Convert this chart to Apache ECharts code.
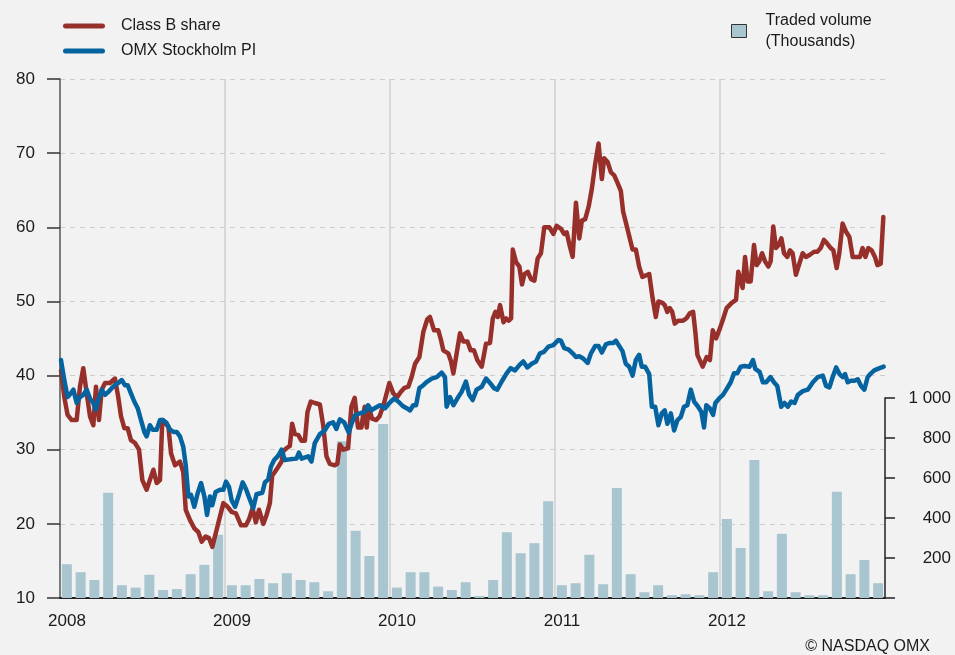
<!DOCTYPE html>
<html>
<head>
<meta charset="utf-8">
<script src="https://cdn.jsdelivr.net/npm/echarts@6/dist/echarts.min.js"></script>
<style>
  html, body { margin: 0; padding: 0; background: #f2f2f2; }
  #chart { width: 955px; height: 655px; }
</style>
</head>
<body>
<div id="chart"></div>
<script>
// Class B share (SEK), dates as decimal years
const classBDates = [
  2008.006, 2008.026, 2008.046, 2008.071, 2008.101, 2008.121, 2008.141, 2008.162, 2008.182, 2008.202,
  2008.218, 2008.236, 2008.253, 2008.273, 2008.303, 2008.333, 2008.353, 2008.370, 2008.390, 2008.410,
  2008.430, 2008.455, 2008.479, 2008.499, 2008.525, 2008.552, 2008.566, 2008.586, 2008.606, 2008.620,
  2008.636, 2008.657, 2008.673, 2008.697, 2008.727, 2008.747, 2008.762, 2008.788, 2008.814, 2008.838,
  2008.859, 2008.883, 2008.903, 2008.923, 2008.939, 2008.964, 2008.990, 2009.016, 2009.041,
  2009.066, 2009.097, 2009.127, 2009.147, 2009.167, 2009.187,
  2009.206, 2009.232, 2009.252, 2009.272, 2009.286, 2009.302, 2009.323, 2009.343, 2009.353, 2009.373,
  2009.393, 2009.407, 2009.423, 2009.444, 2009.464, 2009.484, 2009.500, 2009.520, 2009.544, 2009.575,
  2009.595, 2009.615, 2009.635, 2009.665, 2009.681, 2009.696, 2009.716, 2009.746, 2009.766, 2009.786,
  2009.806, 2009.827, 2009.837, 2009.847, 2009.859, 2009.871, 2009.891, 2009.917, 2009.937, 2009.964,
  2009.996, 2010.020, 2010.044, 2010.065, 2010.085, 2010.111, 2010.131, 2010.152, 2010.178, 2010.202,
  2010.226, 2010.242, 2010.267, 2010.293, 2010.309, 2010.323, 2010.353, 2010.370, 2010.384, 2010.404,
  2010.424, 2010.444, 2010.469, 2010.489, 2010.509, 2010.529, 2010.556, 2010.582, 2010.606, 2010.623,
  2010.639, 2010.653, 2010.667, 2010.688, 2010.704, 2010.720, 2010.734, 2010.744,
  2010.764, 2010.784, 2010.800, 2010.815, 2010.835, 2010.855, 2010.875, 2010.895, 2010.915, 2010.935,
  2010.966, 2010.990, 2011.010, 2011.036, 2011.056, 2011.071, 2011.087, 2011.107, 2011.127, 2011.147,
  2011.163, 2011.183, 2011.204, 2011.224, 2011.244, 2011.264, 2011.284, 2011.298, 2011.319, 2011.339,
  2011.359, 2011.379, 2011.399, 2011.413, 2011.429, 2011.450, 2011.470, 2011.490, 2011.510, 2011.530,
  2011.550, 2011.571, 2011.591, 2011.611, 2011.627, 2011.651,
  2011.665, 2011.681, 2011.696, 2011.710, 2011.726, 2011.746, 2011.776, 2011.796, 2011.817, 2011.837,
  2011.851, 2011.863, 2011.895, 2011.919, 2011.939, 2011.956, 2011.976, 2012.000, 2012.020, 2012.040,
  2012.071, 2012.097, 2012.111, 2012.125, 2012.137, 2012.152, 2012.168, 2012.186, 2012.206, 2012.222,
  2012.238, 2012.255, 2012.273, 2012.293, 2012.307, 2012.323, 2012.339, 2012.355, 2012.372, 2012.388,
  2012.408, 2012.424, 2012.440, 2012.460, 2012.481, 2012.501, 2012.521, 2012.545, 2012.570, 2012.590,
  2012.610, 2012.630, 2012.650, 2012.671, 2012.687, 2012.707, 2012.723, 2012.743, 2012.764, 2012.784,
  2012.804, 2012.828, 2012.848, 2012.864, 2012.881, 2012.899, 2012.919, 2012.939, 2012.954, 2012.974,
  2012.990
]
const classBValues = [
  40.7, 37.1, 34.7, 34.0, 34.0, 38.5, 41.0, 37.6, 34.5, 33.3,
  38.5, 34.0, 38.1, 39.0, 39.0, 39.6, 37.1, 34.5, 32.9, 32.9,
  31.3, 30.9, 30.0, 25.9, 24.6, 26.4, 27.3, 25.5, 25.9, 34.0,
  33.6, 33.1, 29.5, 27.9, 28.4, 27.0, 21.9, 20.5, 19.4, 18.9,
  17.6, 18.3, 18.1, 16.9, 18.3, 20.5, 22.8, 22.3, 21.6,
  21.4, 19.8, 19.8, 20.7, 22.1, 20.2,
  21.9, 20.0, 21.2, 22.8, 26.5, 27.0, 27.7, 28.4, 29.8, 30.2,
  30.5, 33.5, 32.1, 32.0, 31.2, 31.2, 35.1, 36.5, 36.3, 36.1,
  33.3, 29.1, 28.1, 27.9, 28.1, 30.7, 30.0, 30.2, 35.8, 37.0,
  33.0, 33.0, 34.7, 35.8, 33.0, 35.8, 34.2, 34.0, 34.5, 36.3,
  39.0, 37.6, 37.1, 37.8, 38.3, 38.5, 39.8, 41.6, 42.5, 45.9,
  47.6, 47.9, 46.1, 46.1, 44.8, 43.4, 43.0, 41.9, 40.3, 43.0,
  45.7, 44.6, 44.6, 43.4, 43.4, 42.1, 41.2, 44.3, 44.4, 47.7,
  48.6, 47.9, 49.5, 47.2, 47.7, 47.4, 47.7, 57.0,
  55.3, 54.7, 52.3, 53.7, 54.0, 53.0, 52.8, 55.8, 56.5, 60.0,
  60.0, 59.1, 60.2, 59.8, 59.1, 59.3, 57.7, 56.0, 63.3, 58.5,
  60.9, 61.1, 62.8, 65.3, 68.6, 71.3, 66.5, 69.3, 68.8, 67.4,
  67.0, 66.0, 64.9, 62.1, 60.7, 58.8, 57.0, 57.0, 54.7, 53.3,
  53.5, 53.7, 50.5, 47.9, 50.0, 49.8,
  49.5, 48.6, 49.1, 48.6, 47.0, 47.4, 47.4, 47.7, 48.4, 48.6,
  45.8, 42.8, 41.2, 42.5, 42.1, 46.1, 45.0, 46.4, 47.7, 49.1,
  49.8, 50.2, 54.0, 52.9, 51.8, 56.0, 52.7, 52.7, 57.6, 54.9,
  55.4, 56.5, 55.4, 54.7, 55.4, 60.1, 57.2, 57.6, 58.5, 56.5,
  56.0, 56.9, 56.5, 53.6, 55.1, 56.5, 56.0, 56.3, 56.7, 56.7,
  57.2, 58.3, 57.8, 57.2, 56.9, 54.5, 56.5, 60.5, 59.4, 58.7,
  56.0, 56.0, 56.0, 57.2, 56.0, 57.2, 56.9, 56.0, 54.9, 55.1,
  61.4
]

// OMX Stockholm PI, rebased to the share scale
const omxDates = [
  2008.006, 2008.026, 2008.046, 2008.066, 2008.081, 2008.101, 2008.121, 2008.141, 2008.162, 2008.182,
  2008.202, 2008.216, 2008.232, 2008.253, 2008.273, 2008.293, 2008.313, 2008.333, 2008.353, 2008.374,
  2008.394, 2008.410, 2008.430, 2008.450, 2008.471, 2008.491, 2008.511, 2008.525, 2008.545, 2008.561,
  2008.586, 2008.606, 2008.626, 2008.646, 2008.667, 2008.687, 2008.707, 2008.727, 2008.747, 2008.762,
  2008.778, 2008.794, 2008.814, 2008.834, 2008.855, 2008.875, 2008.891, 2008.909, 2008.923, 2008.943,
  2008.970, 2008.990, 2009.006, 2009.024, 2009.040, 2009.061,
  2009.086, 2009.107, 2009.127, 2009.147, 2009.171, 2009.191,
  2009.202, 2009.226, 2009.242, 2009.262, 2009.278, 2009.298, 2009.323, 2009.343, 2009.363, 2009.393,
  2009.433, 2009.448, 2009.464, 2009.504, 2009.524, 2009.544, 2009.575, 2009.605, 2009.629, 2009.655,
  2009.675, 2009.696, 2009.722, 2009.750, 2009.770, 2009.790, 2009.817, 2009.847, 2009.867, 2009.887,
  2009.907, 2009.939, 2009.970, 2009.996, 2010.024, 2010.050, 2010.077, 2010.101, 2010.121, 2010.141,
  2010.158, 2010.178, 2010.202, 2010.226, 2010.253, 2010.283, 2010.313, 2010.333, 2010.343, 2010.364,
  2010.384, 2010.408, 2010.434, 2010.460, 2010.480, 2010.501, 2010.525, 2010.556, 2010.582, 2010.606,
  2010.630, 2010.650, 2010.677, 2010.707, 2010.731, 2010.758, 2010.784, 2010.808, 2010.832, 2010.859,
  2010.885, 2010.909, 2010.933, 2010.960, 2010.990, 2011.020,
  2011.036, 2011.056, 2011.083,
  2011.107, 2011.127, 2011.147, 2011.171, 2011.198, 2011.218, 2011.244, 2011.264, 2011.284, 2011.308,
  2011.329, 2011.353, 2011.369, 2011.389, 2011.409, 2011.429, 2011.450, 2011.470, 2011.490, 2011.510,
  2011.526, 2011.546, 2011.571, 2011.587, 2011.607, 2011.627, 2011.647,
  2011.665, 2011.681, 2011.702, 2011.722, 2011.742, 2011.762, 2011.782, 2011.802, 2011.823, 2011.843,
  2011.867, 2011.887, 2011.903, 2011.917, 2011.938, 2011.958, 2011.972, 2011.998, 2012.018, 2012.038,
  2012.065, 2012.085, 2012.105, 2012.125, 2012.149, 2012.179, 2012.200, 2012.214, 2012.240, 2012.260,
  2012.280, 2012.306, 2012.327, 2012.347, 2012.371, 2012.391, 2012.411, 2012.431, 2012.452, 2012.472,
  2012.502, 2012.532, 2012.563, 2012.593, 2012.623, 2012.643, 2012.663, 2012.683, 2012.704, 2012.724,
  2012.744, 2012.758, 2012.774, 2012.794, 2012.815, 2012.835, 2012.855, 2012.875, 2012.895, 2012.915,
  2012.935, 2012.956, 2012.992
]
const omxValues = [
  42.1, 39.4, 37.1, 37.6, 38.1, 36.3, 37.1, 37.4, 38.1, 36.9,
  36.3, 35.4, 36.7, 38.1, 37.4, 37.8, 38.3, 38.7, 39.0, 39.4,
  38.7, 38.7, 37.6, 36.5, 35.6, 34.0, 32.4, 31.8, 33.3, 32.7,
  32.7, 34.0, 34.0, 33.6, 32.7, 32.4, 32.4, 31.8, 30.4, 27.9,
  23.7, 23.9, 22.3, 24.1, 25.5, 23.7, 21.2, 23.7, 22.5, 24.3,
  24.6, 24.6, 25.7, 25.0, 23.2, 22.3,
  24.0, 25.6, 24.7, 23.5, 22.1, 24.0,
  24.2, 24.2, 25.6, 26.0, 27.7, 28.6, 29.2, 30.0, 28.6, 28.7,
  28.8, 29.6, 28.8, 29.1, 28.4, 30.9, 32.1, 32.6, 33.5, 33.7,
  32.8, 34.1, 33.7, 32.3, 33.7, 34.7, 34.9, 35.1, 36.0, 35.3,
  35.6, 36.0, 35.6, 36.3, 36.9, 36.5, 35.9, 35.6, 35.3, 36.0,
  36.0, 38.3, 38.7, 39.2, 39.6, 39.8, 40.4, 39.8, 35.8, 37.1,
  36.0, 36.9, 37.8, 39.2, 37.4, 36.7, 38.1, 38.5, 39.6, 39.0,
  38.3, 38.1, 39.2, 40.3, 41.0, 40.7, 41.4, 41.9, 41.1, 41.6,
  41.9, 43.0, 43.2, 43.9, 44.1, 44.8,
  44.7, 43.7, 43.5,
  43.0, 42.5, 42.6, 42.3, 41.7, 43.0, 44.0, 44.0, 43.1, 44.2,
  44.4, 44.4, 44.7, 44.0, 43.3, 41.6, 41.2, 40.0, 42.1, 42.8,
  41.2, 41.2, 40.2, 35.8, 35.8, 33.3, 34.9,
  35.3, 33.5, 34.9, 32.6, 34.0, 34.4, 35.8, 36.0, 38.1, 36.5,
  35.8, 35.1, 33.0, 36.0, 35.6, 34.7, 36.3, 37.0, 37.4, 38.1,
  39.1, 40.3, 40.3, 41.2, 41.3, 41.2, 42.1, 40.9, 40.5, 39.1,
  39.1, 39.8, 39.1, 38.6, 35.8, 36.3, 35.8, 36.5, 36.3, 37.4,
  37.9, 38.1, 39.1, 39.8, 40.0, 38.6, 38.4, 39.8, 41.1, 40.2,
  39.8, 40.2, 39.1, 39.3, 39.3, 39.5, 38.6, 38.1, 39.8, 40.3,
  40.7, 40.9, 41.2
]

// monthly traded volume (thousands), Jan 2008 .. Dec 2012
const volume2008 = [169, 129, 90, 526, 64, 52, 116, 40, 45, 119, 166, 316]
const volume2009 = [64, 64, 95, 74, 124, 90, 79, 34, 784, 336, 210, 870]
const volume2010 = [52, 129, 129, 57, 40, 79, 10, 90, 329, 224, 274, 484]
const volume2011 = [64, 74, 216, 69, 550, 119, 29, 64, 14, 19, 14, 129]
const volume2012 = [395, 250, 690, 34, 321, 29, 14, 14, 531, 119, 190, 74]

const years = [2008, 2009, 2010, 2011, 2012]
const months = []
years.forEach(y => { for (let m = 1; m <= 12; m++) months.push(y + '-' + (m < 10 ? '0' + m : m)) })
const volume = [...volume2008, ...volume2009, ...volume2010, ...volume2011, ...volume2012]

const zip = (xs, ys) => xs.map((x, i) => [x, ys[i]])

const font = '"Liberation Sans", Arial, sans-serif'
const ink = '#1a1a1a'
const capsule = 'path://M2.5,0H39.5A2.5,2.5 0 0 1 39.5,5H2.5A2.5,2.5 0 0 1 2.5,0Z'

const chart = echarts.init(document.getElementById('chart'))
chart.setOption({
  backgroundColor: '#f2f2f2',
  animation: false,
  textStyle: { fontFamily: font, color: ink },
  grid: [
    { left: 60, right: 70, top: 79, bottom: 57 },
    { left: 60, right: 70, top: 398, bottom: 57 },
  ],
  legend: [
    {
      data: ['Class B share', 'OMX Stockholm PI'],
      orient: 'vertical',
      left: 58,
      top: 11,
      icon: capsule,
      itemWidth: 42,
      itemHeight: 5,
      itemGap: 5,
      selectedMode: false,
      textStyle: { fontSize: 16, color: ink, lineHeight: 20, padding: [0, 0, 0, 11] },
    },
    {
      data: [{ name: 'Traded volume', itemStyle: { borderColor: '#333', borderWidth: 1 } }],
      left: 726,
      top: 5,
      icon: 'rect',
      itemWidth: 15,
      itemHeight: 13,
      selectedMode: false,
      formatter: () => 'Traded volume\n(Thousands)',
      textStyle: { fontSize: 16, color: ink, lineHeight: 21, padding: [0, 0, 0, 14] },
    },
  ],
  xAxis: [
    {
      gridIndex: 0,
      type: 'value',
      min: 2008,
      max: 2013,
      interval: 1,
      axisLine: { show: true, onZero: false, lineStyle: { color: '#222', width: 2 } },
      axisTick: { show: false },
      axisLabel: {
        fontSize: 17,
        color: ink,
        margin: 15,
        padding: [0, 0, 0, 14],
        formatter: v => (v >= 2013 ? '' : String(v)),
      },
      splitLine: { show: true, showMinLine: false, showMaxLine: false, lineStyle: { color: '#cfcfcf', width: 1.5 } },
    },
    {
      gridIndex: 1,
      type: 'category',
      data: months,
      show: false,
    },
  ],
  yAxis: [
    {
      gridIndex: 0,
      type: 'value',
      min: 10,
      max: 80,
      interval: 10,
      axisLine: { show: true, lineStyle: { color: '#555', width: 1.5 } },
      axisTick: { show: true, length: 13, lineStyle: { color: '#333', width: 1.5 } },
      axisLabel: { fontSize: 17, color: ink, margin: 25 },
      splitLine: { show: true, showMinLine: false, lineStyle: { type: [5, 5], color: '#cccccc', width: 1 } },
    },
    {
      gridIndex: 1,
      type: 'value',
      position: 'right',
      min: 0,
      max: 1000,
      interval: 200,
      axisLine: { show: true, lineStyle: { color: '#222', width: 1.5 } },
      axisTick: { show: true, length: 10, lineStyle: { color: '#222', width: 1.5 } },
      axisLabel: {
        fontSize: 17,
        color: ink,
        align: 'right',
        margin: 66,
        formatter: v => (v === 0 ? '' : String(v).replace(/\B(?=(\d{3})+(?!\d))/g, ' ')),
      },
      splitLine: { show: false },
    },
  ],
  series: [
    {
      name: 'Traded volume',
      type: 'bar',
      xAxisIndex: 1,
      yAxisIndex: 1,
      data: volume,
      barWidth: 10,
      itemStyle: { color: '#a9c6d0' },
      z: 1,
    },
    {
      name: 'Class B share',
      type: 'line',
      data: zip(classBDates, classBValues),
      symbol: 'none',
      color: '#97302b',
      lineStyle: { width: 4.5, color: '#97302b', cap: 'round', join: 'round' },
      z: 3,
    },
    {
      name: 'OMX Stockholm PI',
      type: 'line',
      data: zip(omxDates, omxValues),
      symbol: 'none',
      color: '#0563a0',
      lineStyle: { width: 4.5, color: '#0563a0', cap: 'round', join: 'round' },
      z: 4,
    },
  ],
  graphic: [
    {
      type: 'text',
      right: 25,
      top: 639,
      style: { text: '© NASDAQ OMX', font: '16px ' + font, fill: ink },
    },
  ],
})
</script>
</body>
</html>
